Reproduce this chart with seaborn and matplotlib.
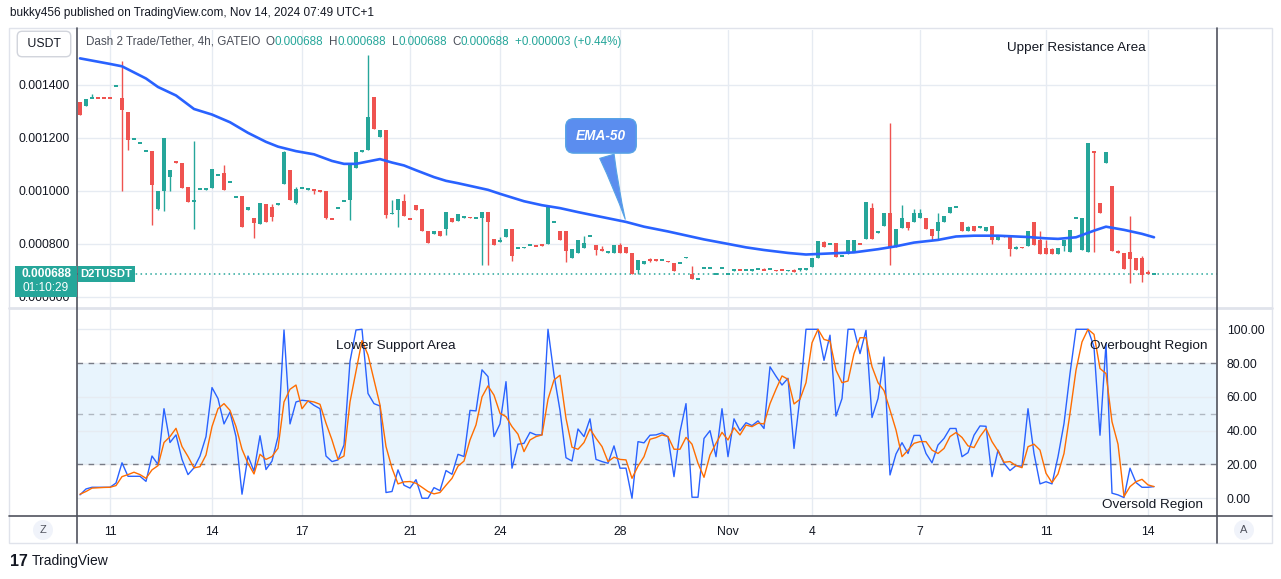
import numpy as np
import pandas as pd
import matplotlib
matplotlib.use("Agg")
import matplotlib.pyplot as plt
import seaborn as sns
from matplotlib.patches import Rectangle
from matplotlib.lines import Line2D
from matplotlib.transforms import Bbox, TransformedBbox

# ---------------- data (prices in millionths of USDT) ----------------
opens = [1337,1322,1349,1351,1351,1351,1395,1352,1296,1195,1180,1150,1151,933,999,1054,1108,1104,1013,957,
         1006,1002,1012,1061,1067,1033,976,982,927,896,874,952,941,946,1025,1077,956,1010,1002,1007,
         1005,999,895,935,961,965,1086,1146,1156,1356,1203,1231,912,927,963,895,948,933,850,836,
         849,857,899,885,897,902,897,897,922,820,808,825,858,784,786,795,796,800,799,883,
         850,850,747,765,785,828,796,780,765,765,797,789,767,703,726,740,744,739,736,729,
         727,746,685,667,708,708,686,708,686,697,703,701,701,705,703,705,702,703,697,703,
         705,700,712,746,807,800,805,755,763,771,801,818,937,840,867,918,790,859,884,882,
         897,899,858,848,882,916,939,884,848,869,859,848,869,814,835,831,780,787,791,884,
         813,786,782,761,794,768,897,776,768,1148,956,1104,1020,772,767,771,745,748,692,685]
highs = [1337,1345,1367,1351,1351,1351,1396,1489,1296,1196,1181,1151,1151,1001,1201,1077,1109,1107,1013,1189,
         1007,1012,1084,1062,1096,1034,977,982,941,896,956,952,949,956,1152,1077,1015,1011,1012,1007,
         1005,999,895,936,962,1098,1148,1156,1513,1356,1228,1231,967,971,990,898,948,933,850,849,
         849,922,899,913,907,902,898,922,922,820,825,858,858,785,787,796,796,800,942,884,
         850,850,779,816,829,829,796,794,775,796,804,789,767,740,737,745,744,740,736,729,
         728,752,718,668,709,709,687,709,687,706,703,702,707,706,711,706,702,703,702,706,
         707,711,745,812,812,801,805,757,813,816,801,960,956,850,918,1257,858,945,884,932,
         930,899,858,918,907,941,940,884,866,869,869,865,869,835,835,831,791,787,850,884,
         850,816,786,786,816,854,898,899,1182,1148,956,1145,1020,776,767,907,745,755,703,688]
lows = [1288,1322,1349,1350,1350,1350,1395,1001,1156,1195,1180,1150,873,929,926,1001,1107,1010,957,858,
        1006,1002,1012,1061,1005,1033,976,863,927,823,874,882,886,946,1025,965,952,1010,1002,989,
        995,893,894,935,961,892,1086,1146,1156,1233,1203,897,912,863,904,894,927,848,802,836,
        829,833,882,885,897,897,897,719,722,797,808,825,735,784,786,795,791,791,799,883,
        814,731,747,765,785,828,757,772,765,765,765,765,688,688,726,733,734,739,731,697,
        727,746,667,667,708,708,686,708,686,697,702,701,697,705,702,705,697,702,697,693,
        697,700,712,746,787,800,750,755,763,771,800,818,818,840,867,719,790,859,851,882,
        897,855,814,816,882,916,939,848,848,848,859,848,799,814,825,753,780,786,791,795,
        761,761,761,761,772,768,897,776,768,768,916,1104,772,765,704,651,701,655,687,685]
closes = [1288,1345,1351,1350,1350,1350,1396,1307,1191,1196,1181,1151,1021,1001,1201,1077,1107,1010,957,967,
          1007,1012,1084,1062,1005,1034,977,863,941,878,956,882,901,956,1148,965,1009,1011,1012,1000,
          995,899,894,936,962,1098,1148,1156,1277,1233,1228,908,918,971,904,894,927,848,802,849,
          829,922,882,913,907,897,898,922,882,797,811,858,753,785,787,796,791,791,942,884,
          814,772,779,816,805,829,776,772,775,796,765,765,688,740,737,738,734,740,731,697,
          728,752,667,668,709,709,687,709,687,706,702,702,702,706,702,706,697,702,702,693,
          706,711,745,812,787,801,750,757,813,816,800,960,818,850,918,784,858,896,859,918,
          918,855,829,884,907,941,940,848,862,848,869,865,814,835,825,780,787,786,850,795,
          761,761,761,786,816,854,898,899,1182,1143,916,1145,772,765,704,742,701,682,687,688]

# EMA-50 at selected bars
ema_bar = [0,5,7,11,13,16,19,22,25,28,31,33,36,39,42,44,46,48,50,52,54,56,59,61,63,68,70,74,77,80,83,86,91,94,98,
           101,104,108,111,114,118,121,123,126,129,133,136,139,143,146,149,153,156,158,161,163,166,169,171,172,174,177,179]
ema_val = [1500,1479,1470,1424,1392,1360,1309,1288,1259,1219,1185,1167,1150,1138,1113,1102,1102,1111,1120,1107,1096,1078,
           1052,1038,1029,1004,989,961,946,935,920,906,883,865,847,832,817,800,787,777,766,760,762,765,768,780,791,805,
           815,828,831,831,828,826,821,819,825,850,865,861,853,838,825]

# Stochastic RSI (%K blue, %D orange)
stoch_k = [2,5.5,6.5,6.5,6.5,6.5,9,21,13,13, 13,10,25,20,53,33,37.5,23,14,18,
           25,36.5,65.5,59,44,51,36.5,2.4,25,16, 37,17,22,36.5,99.6,44,57,58,57.6,55,
           53,25,21.7,22.7,31.5,81,99.6,100,62,56, 54.6,3.4,4,16.8,7.7,6,11,0,0,6.3,
           4.5,16.4,14.2,26,24.7,52,51.7,76,72,36.5, 44,69,17.8,32,32.5,39,37.5,37.5,100,73,
           52,24,22,41,36.5,47,23,21.7,20.7,31, 17.8,17.8,0,33.5,32.8,37.3,37.5,38.7,36.3,12.8,
           39.3,56,0.6,0.6,35.4,40,24.6,53,24.6,47, 40,44.7,43,45.8,41.3,77.8,72.2,67,71,29.5,
           60,100,100,100,81.6,96.5,48.6,59,100,100, 85.6,99.4,47.8,59,83.6,13.8,26.2,32.9,26.5,37.2,
           37.2,26.5,21,31.5,35.4,41.3,41.3,24.6,27,37.3, 42.8,42.6,12.8,28.5,20.7,16.4,19.3,19,53,26.5,
           8.5,9.8,8.5,24.6,44.2,73.8,100,100,100,89.5, 37.3,91.5,3,2,0.4,17.8,9.3,6.5,6.5,6.9]
stoch_d = [2.4,4,6,6.2,6.4,6.5,7.5,12.8,14,15.4, 14,11.8,16.8,19.3,33,36.5,41.4,30.6,24.7,18,
           18.7,25.6,42.4,53,56,52,42.4,29,20.7,14.4, 26,23,24.7,29.6,57,64.5,67,53,57.6,57,
           55.6,44.4,34.5,23,25,57,75,93.3,84.8,70, 55.2,30.6,17.8,8.5,9.7,9.9,8.9,6.5,4,2.6,
           3.4,7.7,11.8,19,22,34.5,43.4,60,66.5,61, 50.3,48.3,42.4,37.9,27.6,34.5,36.5,37.5,58.6,70,
           72.8,47.3,30.2,29,33,41,35.5,30.6,21.7,24.3, 23,22.7,11.8,19,24.6,34.9,35.9,37.5,36.5,29,
           29,36,32,20.7,12.4,25.6,32.5,39,34.5,41.7, 37.5,43.3,42.4,44.4,44,56,64.5,72.4,70.4,55.8,
           58.6,68.4,92,100,94,93,75.8,68.4,69.4,85.6, 95,95,77.9,68.4,63.7,52.2,40.4,24.6,28.5,32.5,
           33.5,33.5,28.5,26.5,29.5,36.5,38.9,36,31,30, 36.5,41.3,33.5,28,21.3,21.7,19.3,18.1,30.5,32,
           28.5,14.8,9.3,14.4,26.5,50.2,75.8,92.5,100,97, 76.8,73.8,45.3,32,1,6.9,9.8,11.2,7.9,6.9]

date_bars = [5, 22, 37, 55, 70, 90, 108, 122, 140, 161, 178]
date_labels = ["11", "14", "17", "21", "24", "28", "Nov", "4", "7", "11", "14"]
price_ticks = [600, 800, 1000, 1200, 1400]
stoch_ticks = [0, 20, 40, 60, 80, 100]
last_price = 688

# ---------------- style ----------------
sns.set_theme(style="white")
plt.rcParams['font.family'] = ['Liberation Sans', 'DejaVu Sans']

W, H = 1281, 579
def fx(px): return px / W
def fy(py): return 1 - py / H

GREEN = "#26a69a"
RED = "#ef5350"
TXT = "#131722"
GRID = "#e6ebf2"

df = pd.DataFrame({"bar": np.arange(len(opens)), "open": opens, "high": highs,
                   "low": lows, "close": closes})
df["up"] = df["close"] >= df["open"]
df["color"] = np.where(df["up"], GREEN, RED)
mid = (df["open"] + df["close"]) / 2
span = (df["close"] - df["open"]).abs()
minh = 7.0
df["body_h"] = np.maximum(span, minh)
df["body_b"] = np.where(span < minh, mid - minh / 2, np.minimum(df["open"], df["close"]))

fig = plt.figure(figsize=(W / 100, H / 100), dpi=100)
fig.patch.set_facecolor("white")

ax1 = fig.add_axes([fx(77), fy(307), fx(1217) - fx(77), (307 - 30) / H])
ax2 = fig.add_axes([fx(77), fy(516), fx(1217) - fx(77), (516 - 308) / H])

for ax in (ax1, ax2):
    ax.set_facecolor("white")
    ax.set_xlim(-0.5, 189.5)
    for s in ax.spines.values():
        s.set_visible(False)
    ax.set_xticks(date_bars)
    ax.grid(True, color=GRID, lw=1)
    ax.set_axisbelow(True)

# ---- price panel ----
ax1.set_ylim(562, 1607)
ax1.vlines(df["bar"], df["low"], df["high"], colors=df["color"], lw=1.0, zorder=2)
ax1.bar(df["bar"], df["body_h"], bottom=df["body_b"], width=0.8, color=df["color"],
        linewidth=0, zorder=3)
sns.lineplot(x=ema_bar, y=ema_val, ax=ax1, color="#2962ff", linewidth=1.9, zorder=4)
ax1.axhline(last_price, color=GREEN, ls=(0, (1, 2.2)), lw=1.1, zorder=1)
ax1.set_yticks(price_ticks)
ax1.set_yticklabels([f"{v / 1e6:.6f}" for v in price_ticks])
ax1.tick_params(axis="y", length=0, pad=5, labelsize=8.8, labelcolor=TXT)
ax1.tick_params(axis="x", length=0, labelbottom=False)
ax1.set_xlabel(""); ax1.set_ylabel("")
# lowest price label is partly hidden behind the last-price tag, as in TradingView
clip_region = TransformedBbox(Bbox([[0, 0], [fx(77), fy(297)]]), fig.transFigure)
for lbl in ax1.get_yticklabels():
    if lbl.get_text() == f"{price_ticks[0] / 1e6:.6f}":
        lbl.set_clip_box(clip_region)
        lbl.set_clip_on(True)

# EMA-50 callout
tip_bar = 91
tip_val = ema_val[ema_bar.index(tip_bar)]
ax1.annotate("EMA-50", xy=(tip_bar, tip_val), xytext=(-25, 86), textcoords="offset pixels",
             ha="center", va="center", color="white", fontsize=9.8, fontstyle="italic",
             fontweight="bold",
             bbox=dict(boxstyle="round,pad=0.75,rounding_size=0.6", fc="#5b8def", ec="#57a3e6", lw=1),
             arrowprops=dict(arrowstyle="wedge,tail_width=1.1,shrink_factor=0.4",
                             fc="#5b8def", ec="#57a3e6", lw=0.8),
             zorder=6)

# ---- stochastic panel ----
ax2.set_ylim(-10.5, 112.6)
ax2.axhspan(20, 80, color="#2196f3", alpha=0.1, lw=0, zorder=0.5)
ax2.axhline(80, color="#787b86", ls=(0, (4, 4)), lw=1, zorder=1)
ax2.axhline(20, color="#787b86", ls=(0, (4, 4)), lw=1, zorder=1)
ax2.axhline(50, color="#787b86", ls=(0, (4, 4)), lw=1, alpha=0.5, zorder=1)
bars = np.arange(len(stoch_k))
sns.lineplot(x=bars, y=stoch_k, ax=ax2, color="#2962ff", linewidth=1.0, zorder=3)
sns.lineplot(x=bars, y=stoch_d, ax=ax2, color="#ff6d00", linewidth=1.0, zorder=4)
ax2.yaxis.tick_right()
ax2.set_yticks(stoch_ticks)
ax2.set_yticklabels([f"{v:.2f}" for v in stoch_ticks])
ax2.tick_params(axis="y", length=0, pad=7, labelsize=8.8, labelcolor=TXT)
ax2.set_xticklabels(date_labels)
ax2.tick_params(axis="x", length=0, pad=7, labelsize=8.8, labelcolor=TXT)
ax2.set_xlabel(""); ax2.set_ylabel("")

# ---- frame lines ----
fig.add_artist(Rectangle((fx(9), fy(543)), fx(1272) - fx(9), (543 - 28) / H, fill=False,
                         ec="#e0e3eb", lw=1, transform=fig.transFigure))
fig.add_artist(Line2D([fx(9), fx(1272)], [fy(307.5), fy(307.5)], color="#e0e3eb", lw=2,
                      transform=fig.transFigure))
fig.add_artist(Line2D([fx(9), fx(1272)], [fy(516), fy(516)], color="#50535e", lw=1.2,
                      transform=fig.transFigure))
for xx in (77, 1217):
    fig.add_artist(Line2D([fx(xx), fx(xx)], [fy(28), fy(543)], color="#50535e", lw=1.2,
                          transform=fig.transFigure))

# ---- texts ----
fig.text(fx(10), fy(13), "bukky456 published on TradingView.com, Nov 14, 2024 07:49 UTC+1",
         fontsize=8.5, color=TXT, va="center", ha="left")
fig.text(fx(44), fy(44), " USDT ", fontsize=8.8, color=TXT, va="center", ha="center",
         bbox=dict(boxstyle="round,pad=0.55,rounding_size=0.4", fc="white", ec="#d1d4dc", lw=1))

pieces = [("Dash 2 Trade/Tether, 4h, GATEIO", "#4a4e59", 0), ("O", "#4a4e59", 4),
          ("0.000688", GREEN, 0), ("H", "#4a4e59", 4), ("0.000688", GREEN, 0),
          ("L", "#4a4e59", 4), ("0.000688", GREEN, 0), ("C", "#4a4e59", 4),
          ("0.000688", GREEN, 0), ("+0.000003 (+0.44%)", GREEN, 4)]
prev = fig.text(fx(86), fy(42), pieces[0][0], fontsize=8.4, color=pieces[0][1], va="center", ha="left")
for txt, col, gap in pieces[1:]:
    prev = ax1.annotate(txt, xy=(1, 0), xycoords=prev, xytext=(gap, 0), textcoords="offset points",
                        fontsize=8.4, color=col, va="bottom", ha="left")

fig.text(fx(1076), fy(48), "Upper Resistance Area", fontsize=9.7, color=TXT, ha="center", va="center")
fig.text(fx(396), fy(346), "Lower Support Area", fontsize=9.7, color=TXT, ha="center", va="center")
fig.text(fx(1149), fy(346), "Overbought Region", fontsize=9.7, color=TXT, ha="center", va="center")
fig.text(fx(1152), fy(505), "Oversold Region", fontsize=9.7, color=TXT, ha="center", va="center")

# last price labels
fig.add_artist(Rectangle((fx(15), fy(297)), fx(77) - fx(15), 31 / H, fc=GREEN, ec="none",
                         transform=fig.transFigure, zorder=5))
fig.text(fx(46), fy(274), "0.000688", fontsize=8.6, color="white", ha="center", va="center",
         fontweight="bold", zorder=6)
fig.text(fx(46), fy(288.5), "01:10:29", fontsize=8.6, color="white", ha="center", va="center", zorder=6)
fig.add_artist(Rectangle((fx(78), fy(282)), fx(135) - fx(78), 16 / H, fc=GREEN, ec="none",
                         transform=fig.transFigure, zorder=5))
fig.text(fx(106.5), fy(274), "D2TUSDT", fontsize=8.1, color="white", ha="center", va="center",
         fontweight="bold", zorder=6)

# bottom controls
fig.text(fx(43), fy(530), "Z", fontsize=8, color="#50535e", ha="center", va="center",
         bbox=dict(boxstyle="circle,pad=0.45", fc="#f0f3fa", ec="none"))
fig.text(fx(1244), fy(530), "A", fontsize=8, color="#50535e", ha="center", va="center",
         bbox=dict(boxstyle="circle,pad=0.45", fc="#f0f3fa", ec="none"))

# TradingView watermark
fig.text(fx(10), fy(561), "17", fontsize=11.5, fontweight="heavy", color="#131722",
         ha="left", va="center")
fig.text(fx(32), fy(561), "TradingView", fontsize=10, color="#131722", ha="left", va="center")

fig.savefig("out.png", dpi=100, facecolor="white")
